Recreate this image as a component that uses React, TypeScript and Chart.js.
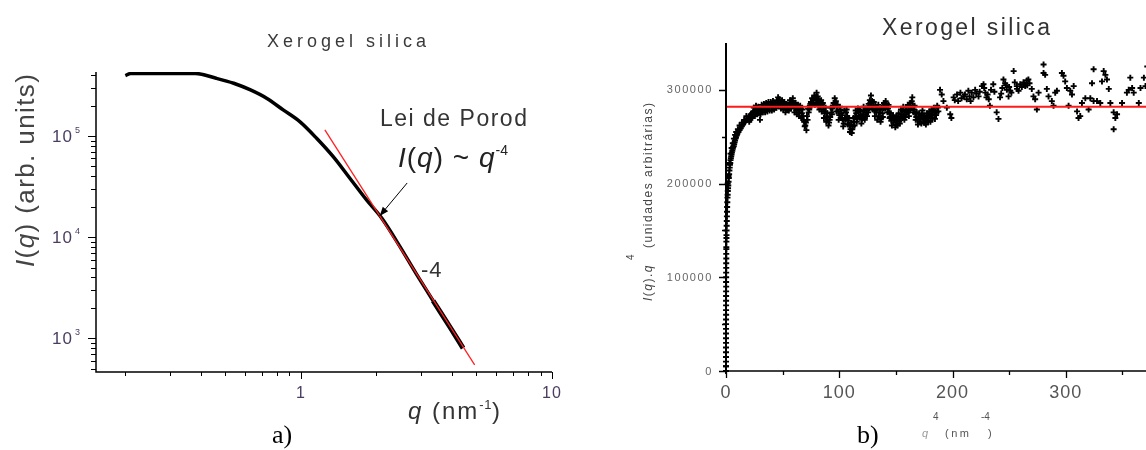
import React, { useEffect, useRef } from "react";
import { Chart, registerables } from "chart.js";
Chart.register(...registerables);

// ---------- Panel a) : I(q) vs q (log-log) ----------
const qA = [0.2, 0.21, 0.275, 0.38, 0.46, 0.54, 0.63, 0.73, 0.85, 0.99, 1.155, 1.345, 1.567, 1.826, 2.095, 2.477, 2.886, 3.361, 3.916, 4.424];
const intensityA = [395000, 415000, 415000, 415000, 372000, 332000, 285000, 236000, 181000, 138500, 94900, 62400, 38200, 23300, 15500, 8100, 4300, 2350, 1300, 800];
const porodLineQ = [1.246, 4.92];
const porodLineI = [115000, 545];
const xMajorA = [1, 10];
const xMinorA = [0.2, 0.3, 0.4, 0.5, 0.6, 0.7, 0.8, 0.9, 2, 3, 4, 5, 6, 7, 8, 9];
const xLabelsA = ["1", "10"];
const yMajorA = [1000, 10000, 100000];
const yMinorA = [500, 600, 700, 800, 900, 2000, 3000, 4000, 5000, 6000, 7000, 8000, 9000, 20000, 30000, 40000, 50000, 60000, 70000, 80000, 90000, 200000, 300000, 400000];
const yExpA = ["3", "4", "5"];

// ---------- Panel b) : I(q).q^4 vs q^4 (values in thousands) ----------
const startQ4B = [0.005, 0.01, 0.015, 0.03, 0.04, 0.06, 0.08, 0.12, 0.18, 0.25, 0.35, 0.4, 0.5, 0.7, 0.9, 1.15, 1.45, 1.8, 2.25, 2.75, 3.25, 3.75, 4.3, 4.9, 5.6, 6.4, 7.2, 8.0, 8.8, 9.6,
  1.5, 2.2, 3, 4, 5, 6, 7, 8, 9, 10.5, 12, 14, 16, 18,
  0.008, 0.012, 0.02, 0.025, 0.035, 0.045, 0.05, 0.07, 0.09, 0.1, 0.14, 0.22, 0.3];
const startIq4B = [0, 10, 20, 40, 50, 70, 80, 100, 115, 120, 138, 142, 150, 160, 170, 180, 188, 195, 202, 210, 217, 222, 227, 231, 235, 239, 242, 246, 249, 252,
  200, 208, 222, 232, 238, 243, 248, 252, 255, 258, 262, 265, 268, 272,
  5, 15, 25, 35, 45, 55, 65, 75, 85, 95, 105, 125, 132];
const q4B = [
  0.02, 0.05, 0.1, 0.15, 0.2, 0.3, 0.45, 0.6, 0.8, 1.0, 1.3, 1.6, 2.0, 2.5, 3.0, 3.5, 4.0, 4.6, 5.2, 6.0, 6.8, 7.6, 8.4, 9.2, 10,
  11, 12, 13, 14, 15, 16, 17, 18, 19, 20, 21, 22, 23, 24, 25, 26, 27, 28, 29, 30,
  31, 32, 33, 34, 35, 36, 37, 38, 39, 40, 41, 42, 43, 44, 45, 46, 47, 48, 49, 50,
  51, 52, 53, 54, 55, 56, 57, 58, 59, 60, 61, 62, 63, 64, 65, 66, 67, 68, 69, 70,
  71, 72, 73, 74, 75, 76, 77, 78, 79, 80, 81, 82, 83, 84, 85, 86, 87, 88, 89, 90,
  91, 92, 93, 94, 95, 96, 97, 98, 99, 100, 101, 102, 103, 104, 105, 106, 107, 108, 109, 110,
  111, 112, 113, 114, 115, 116, 117, 118, 119, 120, 121, 122, 123, 124, 125, 126, 127, 128, 129, 130,
  131, 132, 133, 134, 135, 136, 137, 138, 139, 140, 141, 142, 143, 144, 145, 146, 147, 148, 149, 150,
  151, 152, 153, 154, 155, 156, 157, 158, 159, 160, 161, 162, 163, 164, 165, 166, 167, 168, 169, 170,
  171, 172, 173, 174, 175, 176, 177, 178, 179, 180, 181, 182, 183, 184, 185, 186, 187,
  20.5, 21.5, 22.5, 23.5, 24.5, 25.5, 26.5, 27.5, 28.5, 29.5, 30.5, 31.5, 32.5, 33.5, 34.5, 35.5, 36.5, 37.5, 38.5, 39.5, 40.5, 41.5, 42.5, 43.5, 44.5,
  189, 190.5, 192, 195, 198, 199, 201, 202, 204, 205, 207, 208, 210, 211, 212.6, 214, 215, 216, 217, 218.5, 220, 221, 223, 224, 226, 227.4, 228, 229, 230, 231,
  232, 233, 234, 236, 237, 239, 240.6, 242, 243, 244, 245, 246.5, 247, 248, 249.5, 250, 251, 252, 254, 255, 256.8, 257, 258.3, 259.8, 261.2, 262.7, 263, 264.2, 265.6, 266,
  267, 268, 270, 271.5, 273, 274.5, 276, 280.4, 280.4, 281.8, 283.3, 284.8, 287.7, 289.2, 290.7, 292.2, 296.6, 298, 299.5, 301, 302.5, 304, 305.5, 307, 310, 311.3, 312.8,
  314.3, 317.3, 320.2, 321.7, 323.2, 324.6, 324.6, 327.6, 330.5, 332, 333.5, 335, 336.4, 338, 339.4, 342.3, 342.3, 343.8, 345.3, 349.7, 354, 355.6, 357, 358.6, 360,
  364.5, 366, 369, 370.4, 372, 374, 376
];
const iq4B = [
  5, 30, 60, 90, 110, 130, 145, 155, 165, 175, 185, 192, 198, 206, 214, 220, 225, 229, 233, 237, 240, 244, 248, 251, 253,
  255, 257, 259, 261, 263, 265, 266, 268, 269, 271, 272, 274, 275, 277, 276, 278, 279, 277, 275, 268,
  278, 280, 281, 279, 282, 280, 283, 281, 284, 282, 285, 283, 281, 286, 289, 292, 290, 287, 285, 283,
  286, 281, 284, 279, 282, 286, 283, 288, 291, 286, 281, 278, 283, 279, 276, 280, 275, 272, 266, 262,
  257, 268, 276, 283, 287, 291, 289, 294, 292, 297, 293, 290, 286, 289, 284, 279, 275, 281, 272, 268,
  265, 271, 276, 280, 286, 291, 288, 282, 277, 273, 279, 275, 268, 264, 270, 276, 272, 267, 262, 258,
  254, 261, 266, 271, 275, 270, 276, 279, 273, 268, 274, 278, 272, 276, 281, 285, 289, 294, 288, 283,
  278, 283, 276, 280, 272, 276, 270, 275, 280, 284, 288, 285, 280, 276, 271, 267, 270, 265, 268, 263,
  267, 271, 266, 270, 274, 278, 273, 277, 281, 276, 279, 283, 286, 288, 283, 279, 275, 271, 268, 272,
  266, 270, 274, 269, 265, 268, 272, 267, 271, 275, 270, 274, 278, 273, 277, 276, 281,
  266, 268, 270, 272, 281, 272, 283, 274, 282, 280, 274, 284, 276, 285, 276, 286, 277, 287, 278, 287, 278, 288, 279, 286, 281,
  300, 295, 288, 281, 274, 270, 292, 289, 295, 288, 297, 291, 293, 295, 290, 299, 293, 288, 297, 292, 300, 296, 293, 298, 304, 306, 302, 297, 292, 295,
  290, 283, 300, 306, 298, 276, 269, 292, 296, 302, 311, 307, 305, 300, 293, 303, 299, 297, 320, 308, 304, 301, 299, 306, 303, 308, 306, 304, 310, 305,
  311, 307, 301, 293, 290, 279, 297, 327, 318, 316, 301, 293, 288, 283, 297, 299, 318, 315, 309, 302, 283, 299, 295, 304, 277, 270, 272,
  286, 291, 279, 291, 307, 322, 288, 288, 286, 309, 320, 316, 311, 301, 286, 276, 258, 270, 274, 286, 297, 300, 313, 302, 297,
  286, 302, 313, 304, 325, 300, 310
];
const bandQ4B = [
  45.5, 46.5, 47.5, 48.5, 49.5, 50.5, 51.5, 52.5, 53.5, 54.5, 55.5, 56.5, 57.5, 58.5, 59.5, 60.5, 61.5, 62.5, 63.5, 64.5,
  65.5, 66.5, 67.5, 68.5, 69.5, 70.5, 71.5, 72.5, 73.5, 74.5, 75.5, 76.5, 77.5, 78.5, 79.5, 80.5, 81.5, 82.5, 83.5, 84.5,
  85.5, 86.5, 87.5, 88.5, 89.5, 90.5, 91.5, 92.5, 93.5, 94.5, 95.5, 96.5, 97.5, 98.5, 99.5, 100.5, 101.5, 102.5, 103.5, 104.5,
  105.5, 106.5, 107.5, 108.5, 109.5, 110.5, 111.5, 112.5, 113.5, 114.5, 115.5, 116.5, 117.5, 118.5, 119.5, 120.5, 121.5, 122.5, 123.5, 124.5,
  125.5, 126.5, 127.5, 128.5, 129.5, 130.5, 131.5, 132.5, 133.5, 134.5, 135.5, 136.5, 137.5, 138.5, 139.5, 140.5, 141.5, 142.5, 143.5, 144.5,
  145.5, 146.5, 147.5, 148.5, 149.5, 150.5, 151.5, 152.5, 153.5, 154.5, 155.5, 156.5, 157.5, 158.5, 159.5, 160.5, 161.5, 162.5, 163.5, 164.5,
  165.5, 166.5, 167.5, 168.5, 169.5, 170.5, 171.5, 172.5, 173.5, 174.5, 175.5, 176.5, 177.5, 178.5, 179.5, 180.5, 181.5, 182.5, 183.5, 184.5,
  185.5, 186.5, 187.5
];
const bandIq4B = [
  283, 288, 284, 280, 289, 279, 287, 276, 285, 281, 278, 289, 280, 285, 283, 276, 286, 274, 284, 272,
  283, 270, 279, 268, 261, 265, 272, 280, 279, 285, 283, 286, 290, 284, 289, 285, 283, 279, 282, 277,
  286, 270, 277, 266, 275, 262, 268, 281, 274, 283, 283, 286, 277, 284, 268, 282, 270, 273, 261, 278,
  268, 279, 263, 270, 255, 265, 258, 270, 262, 278, 266, 280, 271, 277, 264, 270, 282, 268, 280, 272,
  276, 280, 286, 283, 279, 287, 272, 279, 268, 284, 279, 266, 281, 271, 286, 280, 282, 276, 284, 270,
  275, 262, 273, 270, 260, 272, 262, 275, 264, 279, 270, 282, 268, 271, 276, 284, 272, 278, 281, 292,
  276, 283, 268, 276, 263, 275, 269, 264, 278, 273, 270, 263, 275, 266, 277, 266, 279, 270, 281, 269,
  273, 283, 277
];
const porodConstB = 282;
const xMajorB = [0, 100, 200, 300, 400];
const xMinorB = [50, 150, 250, 350];
const xLabelsB = ["0", "100", "200", "300", "400"];
const yMajorB = [0, 100, 200, 300];
const yMinorB = [50, 150, 250];
const yLabelsB = ["0", "100000", "200000", "300000"];

const SANS = "'Liberation Sans', Arial, sans-serif";
const SERIF = "'Liberation Serif', 'Times New Roman', serif";

type Seg = { t: string; size: number; italic?: boolean; dy?: number; color?: string; ls?: number };

function drawRich(ctx: any, segs: Seg[], x: number, y: number) {
  let cx = x;
  for (const s of segs) {
    ctx.font = `${s.italic ? "italic " : ""}${s.size}px ${SANS}`;
    ctx.letterSpacing = `${s.ls ?? 0}px`;
    ctx.fillStyle = s.color ?? "#000";
    ctx.textAlign = "left";
    ctx.textBaseline = "alphabetic";
    ctx.fillText(s.t, cx, y + (s.dy ?? 0));
    cx += ctx.measureText(s.t).width;
  }
  ctx.letterSpacing = "0px";
  return cx;
}

function text(ctx: any, t: string, x: number, y: number, font: string, color: string, align = "left", baseline = "alphabetic", ls = 0) {
  ctx.font = font;
  ctx.letterSpacing = `${ls}px`;
  ctx.fillStyle = color;
  ctx.textAlign = align;
  ctx.textBaseline = baseline;
  ctx.fillText(t, x, y);
  ctx.letterSpacing = "0px";
}

function PanelA() {
  const ref = useRef<HTMLCanvasElement>(null);
  useEffect(() => {
    const canvas = ref.current as HTMLCanvasElement;
    const decor = {
      id: "decorA",
      afterDraw(chart: any) {
        const { ctx, chartArea: ca } = chart;
        const xs = chart.scales.x;
        const ys = chart.scales.y;
        ctx.save();
        ctx.strokeStyle = "#000";
        ctx.lineWidth = 1.5;
        ctx.beginPath();
        ctx.moveTo(ca.left, ca.top);
        ctx.lineTo(ca.left, ca.bottom);
        ctx.lineTo(ca.right, ca.bottom);
        ctx.stroke();
        ctx.lineWidth = 1;
        ctx.beginPath();
        for (const v of xMajorA) {
          const p = Math.round(xs.getPixelForValue(v)) + 0.5;
          ctx.moveTo(p, ca.bottom); ctx.lineTo(p, ca.bottom + 7);
        }
        for (const v of xMinorA) {
          const p = Math.round(xs.getPixelForValue(v)) + 0.5;
          ctx.moveTo(p, ca.bottom); ctx.lineTo(p, ca.bottom + 4);
        }
        for (const v of yMajorA) {
          const p = Math.round(ys.getPixelForValue(v)) + 0.5;
          ctx.moveTo(ca.left - 8, p); ctx.lineTo(ca.left, p);
        }
        for (const v of yMinorA) {
          const p = Math.round(ys.getPixelForValue(v)) + 0.5;
          ctx.moveTo(ca.left - 5, p); ctx.lineTo(ca.left, p);
        }
        ctx.stroke();
        const tickCol = "#4b3d5f";
        xMajorA.forEach((v, i) => {
          text(ctx, xLabelsA[i], xs.getPixelForValue(v), 394, `16px ${SANS}`, tickCol, "center", "middle", 1);
        });
        yMajorA.forEach((v, i) => {
          const p = ys.getPixelForValue(v);
          text(ctx, "10", 73, p + 1, `17px ${SANS}`, tickCol, "right", "middle", 1);
          text(ctx, yExpA[i], 75, p - 3, `9px ${SANS}`, tickCol, "left", "alphabetic");
        });
        text(ctx, "Xerogel silica", 267, 47, `18px ${SANS}`, "#3a3a3a", "left", "alphabetic", 4);
        text(ctx, "Lei de Porod", 380, 126, `23px ${SANS}`, "#333", "left", "alphabetic", 1.5);
        drawRich(ctx, [
          { t: "I", size: 28, italic: true, color: "#222", ls: 1 },
          { t: "(", size: 28, color: "#222", ls: 1 },
          { t: "q", size: 28, italic: true, color: "#222", ls: 1 },
          { t: ") ~ ", size: 28, color: "#222", ls: 1 },
          { t: "q", size: 28, italic: true, color: "#222", ls: 1 },
          { t: "-4", size: 14, dy: -12, color: "#222" },
        ], 398, 167);
        text(ctx, "-4", 421, 277, `22px ${SANS}`, "#333", "left", "alphabetic", 1);
        const tipX = xs.getPixelForValue(2.06), tipY = ys.getPixelForValue(16200);
        const tailX = xs.getPixelForValue(2.65), tailY = ys.getPixelForValue(34300);
        ctx.strokeStyle = "#000";
        ctx.fillStyle = "#000";
        ctx.lineWidth = 1;
        ctx.beginPath();
        ctx.moveTo(tailX, tailY);
        ctx.lineTo(tipX, tipY);
        ctx.stroke();
        const ang = Math.atan2(tipY - tailY, tipX - tailX);
        ctx.beginPath();
        ctx.moveTo(tipX, tipY);
        ctx.lineTo(tipX - 9 * Math.cos(ang) + 3.5 * Math.sin(ang), tipY - 9 * Math.sin(ang) - 3.5 * Math.cos(ang));
        ctx.lineTo(tipX - 9 * Math.cos(ang) - 3.5 * Math.sin(ang), tipY - 9 * Math.sin(ang) + 3.5 * Math.cos(ang));
        ctx.closePath();
        ctx.fill();
        ctx.save();
        ctx.translate(34, 267);
        ctx.rotate(-Math.PI / 2);
        drawRich(ctx, [
          { t: "I", size: 26, italic: true, color: "#444", ls: 1.4 },
          { t: "(", size: 26, color: "#444", ls: 1.4 },
          { t: "q", size: 26, italic: true, color: "#444", ls: 1.4 },
          { t: ") (arb. units)", size: 26, color: "#444", ls: 1.4 },
        ], 0, 0);
        ctx.restore();
        drawRich(ctx, [
          { t: "q", size: 24, italic: true, color: "#333", ls: 2 },
          { t: " (nm", size: 24, color: "#333", ls: 2 },
          { t: "-1", size: 13, dy: -10, color: "#333", ls: 0.5 },
          { t: ")", size: 24, color: "#333" },
        ], 408, 419);
        text(ctx, "a)", 272, 443, `26px ${SERIF}`, "#000", "left", "alphabetic");
        ctx.restore();
      },
    };
    const chart = new Chart(canvas, {
      type: "line",
      data: {
        datasets: [
          {
            data: porodLineQ.map((q, i) => ({ x: q, y: porodLineI[i] })),
            borderColor: "#ff2020",
            borderWidth: 1.3,
            pointRadius: 0,
            order: 0,
          },
          {
            data: qA.map((q, i) => ({ x: q, y: intensityA[i] })),
            borderColor: "#000",
            borderWidth: 3.5,
            pointRadius: 0,
            cubicInterpolationMode: "monotone",
            order: 1,
            segment: { borderWidth: (c: any) => (c.p0.parsed.x >= 3.3 ? 5 : undefined) },
          },
        ],
      },
      options: {
        animation: false,
        responsive: false,
        maintainAspectRatio: false,
        events: [],
        layout: { padding: { left: 0, top: 72, right: 21, bottom: 0 } },
        plugins: { legend: { display: false }, tooltip: { enabled: false }, title: { display: false } },
        scales: {
          x: {
            type: "logarithmic", min: 0.1528, max: 10,
            ticks: { display: false }, grid: { display: false }, border: { display: false },
            afterFit: (s: any) => { s.height = 78; },
          },
          y: {
            type: "logarithmic", min: 464, max: 429000,
            ticks: { display: false }, grid: { display: false }, border: { display: false },
            afterFit: (s: any) => { s.width = 96; },
          },
        },
      } as any,
      plugins: [decor],
    } as any);
    return () => chart.destroy();
  }, []);
  return <canvas ref={ref} width={573} height={450} style={{ position: "absolute", left: 0, top: 0, width: 573, height: 450 }} />;
}

function PanelB() {
  const ref = useRef<HTMLCanvasElement>(null);
  useEffect(() => {
    const canvas = ref.current as HTMLCanvasElement;
    const decor = {
      id: "decorB",
      afterDraw(chart: any) {
        const { ctx, chartArea: ca } = chart;
        const xs = chart.scales.x;
        const ys = chart.scales.y;
        ctx.save();
        ctx.strokeStyle = "#000";
        ctx.lineWidth = 2;
        ctx.beginPath();
        ctx.moveTo(ca.left, ca.top);
        ctx.lineTo(ca.left, ca.bottom);
        ctx.stroke();
        ctx.lineWidth = 1.6;
        ctx.beginPath();
        ctx.moveTo(ca.left, ca.bottom);
        ctx.lineTo(ca.right, ca.bottom);
        ctx.stroke();
        ctx.lineWidth = 1.3;
        ctx.beginPath();
        for (const v of xMajorB) {
          const p = Math.round(xs.getPixelForValue(v)) + 0.5;
          ctx.moveTo(p, ca.bottom); ctx.lineTo(p, ca.bottom + 7);
        }
        for (const v of xMinorB) {
          const p = Math.round(xs.getPixelForValue(v)) + 0.5;
          ctx.moveTo(p, ca.bottom); ctx.lineTo(p, ca.bottom + 4);
        }
        for (const v of yMajorB) {
          const p = Math.round(ys.getPixelForValue(v)) + 0.5;
          ctx.moveTo(ca.left - 7, p); ctx.lineTo(ca.left, p);
        }
        for (const v of yMinorB) {
          const p = Math.round(ys.getPixelForValue(v)) + 0.5;
          ctx.moveTo(ca.left - 4, p); ctx.lineTo(ca.left, p);
        }
        ctx.stroke();
        xMajorB.forEach((v, i) => {
          text(ctx, xLabelsB[i], xs.getPixelForValue(v), 393, `18px ${SANS}`, "#555", "center", "middle", 1);
        });
        yMajorB.forEach((v, i) => {
          text(ctx, yLabelsB[i], 140, ys.getPixelForValue(v) + 0.5, `11px ${SANS}`, "#666", "right", "middle", 1.6);
        });
        text(ctx, "Xerogel silica", 309, 35, `23px ${SANS}`, "#333", "left", "alphabetic", 2.4);
        ctx.save();
        ctx.translate(79, 301);
        ctx.rotate(-Math.PI / 2);
        drawRich(ctx, [
          { t: "I", size: 12, italic: true, color: "#444", ls: 1.5 },
          { t: "(", size: 12, color: "#444", ls: 1.5 },
          { t: "q", size: 12, italic: true, color: "#444", ls: 1.5 },
          { t: ").", size: 12, color: "#444", ls: 1.5 },
          { t: "q", size: 12, italic: true, color: "#444", ls: 1.5 },
        ], 0, 0);
        text(ctx, "4", 41, -18, `10px ${SANS}`, "#444", "left", "alphabetic");
        text(ctx, "(unidades arbitrárias)", 53, 0, `12px ${SANS}`, "#444", "left", "alphabetic", 1.5);
        ctx.restore();
        text(ctx, "q", 349, 437, `italic 11px ${SANS}`, "#999", "left", "alphabetic");
        text(ctx, "4", 360, 420, `10px ${SANS}`, "#555", "left", "alphabetic");
        text(ctx, "(nm", 372, 437, `11px ${SANS}`, "#555", "left", "alphabetic", 2.5);
        text(ctx, "-4", 408, 420, `10px ${SANS}`, "#555", "left", "alphabetic");
        text(ctx, ")", 415, 437, `11px ${SANS}`, "#555", "left", "alphabetic");
        text(ctx, "b)", 284, 443, `26px ${SERIF}`, "#000", "left", "alphabetic");
        ctx.restore();
      },
    };
    const pts: any[] = [];
    startQ4B.forEach((x, i) => pts.push({ x, y: startIq4B[i] }));
    q4B.forEach((x, i) => pts.push({ x, y: iq4B[i] }));
    bandQ4B.forEach((x, i) => pts.push({ x, y: bandIq4B[i] }));
    const chart = new Chart(canvas, {
      type: "scatter",
      data: {
        datasets: [
          {
            data: [{ x: 0, y: porodConstB }, { x: 400, y: porodConstB }],
            showLine: true,
            borderColor: "#ff1a1a",
            borderWidth: 2,
            pointRadius: 0,
            order: 0,
          },
          {
            data: pts,
            pointStyle: "cross",
            pointRadius: 3,
            borderWidth: 1.9,
            borderColor: "#000",
            backgroundColor: "#000",
            order: 1,
            clip: false,
          },
        ],
      },
      options: {
        animation: false,
        responsive: false,
        maintainAspectRatio: false,
        events: [],
        layout: { padding: { left: 0, top: 43, right: 34, bottom: 0 } },
        plugins: { legend: { display: false }, tooltip: { enabled: false }, title: { display: false } },
        scales: {
          x: {
            type: "linear", min: 0, max: 400,
            ticks: { display: false }, grid: { display: false }, border: { display: false },
            afterFit: (s: any) => { s.height = 79; },
          },
          y: {
            type: "linear", min: 0, max: 350,
            ticks: { display: false }, grid: { display: false }, border: { display: false },
            afterFit: (s: any) => { s.width = 153; },
          },
        },
      } as any,
      plugins: [decor],
    } as any);
    return () => chart.destroy();
  }, []);
  return <canvas ref={ref} width={640} height={450} style={{ position: "absolute", left: 573, top: 0, width: 640, height: 450 }} />;
}

export default function App() {
  return (
    <div style={{ position: "absolute", left: 0, top: 0, width: 1146, height: 450, overflow: "hidden", background: "#fff" }}>
      <PanelA />
      <PanelB />
    </div>
  );
}
